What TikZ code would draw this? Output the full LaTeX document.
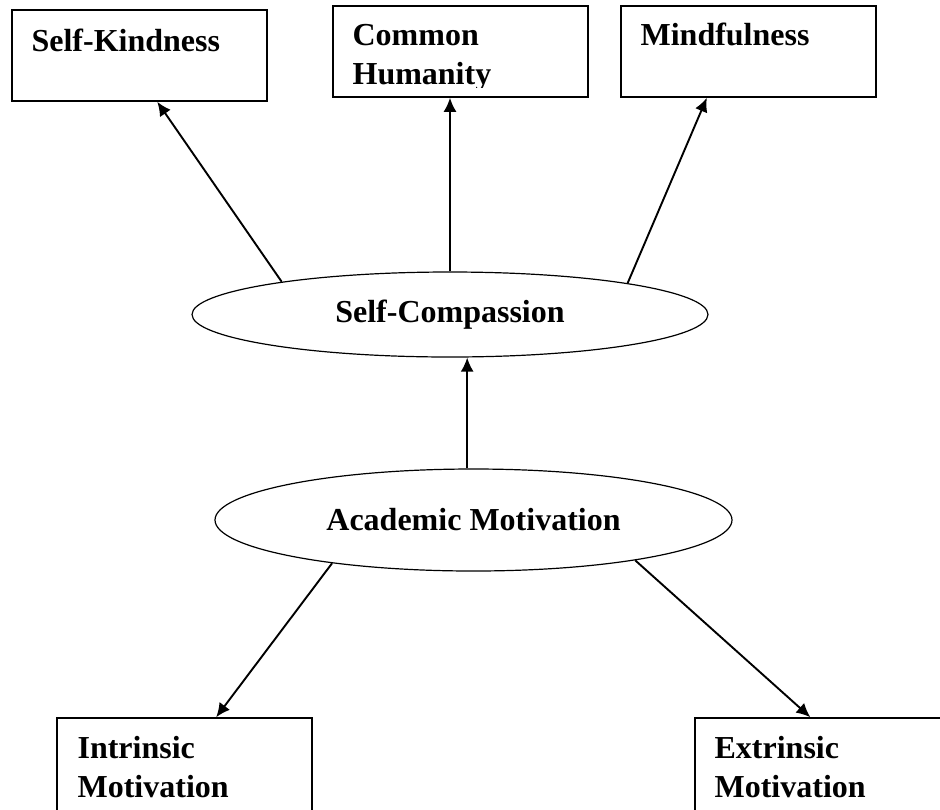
\documentclass[tikz,border=0pt]{standalone}
\usepackage{fontspec}
\setmainfont{Liberation Serif}
\usetikzlibrary{arrows.meta,positioning,shapes.geometric,calc}

\begin{document}
\begin{tikzpicture}[x=0.5pt,y=-0.5pt,>={Latex[length=7pt,width=6.5pt]},
  box/.style={draw,line width=0.8pt,minimum width=127.5pt,minimum height=45.5pt,inner sep=0pt},
  oval/.style={draw,ellipse,line width=0.6pt,inner sep=0pt,
               font=\bfseries\fontsize{16}{19.5}\selectfont},
  lbl/.style={inner sep=0pt,align=left,anchor=base west,
              font=\bfseries\fontsize{16}{19.5}\selectfont},
  link/.style={->,line width=0.95pt}]
\useasboundingbox (0,0) rectangle (940,809);
% upper row
\node[box] (kind) at (139.5,55.5) {};
\node[box] (human) at (460.5,51.5) {};
\node[box] (mind) at (748.5,51.5) {};
\node[lbl] (kindtxt) at ([shift={(10pt,-21pt)}]kind.north west) {Self-Kindness};
\begin{scope}
\clip (human.north west) rectangle ([yshift=5pt]human.south east);
\node[lbl] (humantxt) at ([shift={(10pt,-39.5pt)}]human.north west) {Common\\Humanity};
\end{scope}
\node[lbl] (mindtxt) at ([shift={(10pt,-20pt)}]mind.north west) {Mindfulness};
% latent variables
\node[oval,minimum width=258pt,minimum height=42.5pt] (comp) at (450,314.5) {Self-Compassion};
\node[oval,minimum width=258.5pt,minimum height=51pt] (motiv) at (473.5,520) {Academic Motivation};
% lower row (cut by the page edge)
\node[box,minimum height=48pt] (intr) at (184.5,766) {};
\node[box,minimum height=48pt] (extr) at (822.5,766) {};
\node[lbl] (intrtxt) at ([shift={(10.5pt,-40pt)}]intr.north west) {Intrinsic\\Motivation};
\node[lbl] (extrtxt) at ([shift={(10pt,-40pt)}]extr.north west) {Extrinsic\\Motivation};
% paths
\draw[link] (comp.169) -- (kind.-69);
\draw[link] (comp.north) -- (comp.north |- human.south);
\draw[link] (comp.10) -- (mind.-132);
\draw[link] (motiv.97) -- (motiv.97 |- comp.south);
\draw[link] (motiv.197) -- (intr.57);
\draw[link] (motiv.-14) -- (extr.104);
\end{tikzpicture}
\end{document}
